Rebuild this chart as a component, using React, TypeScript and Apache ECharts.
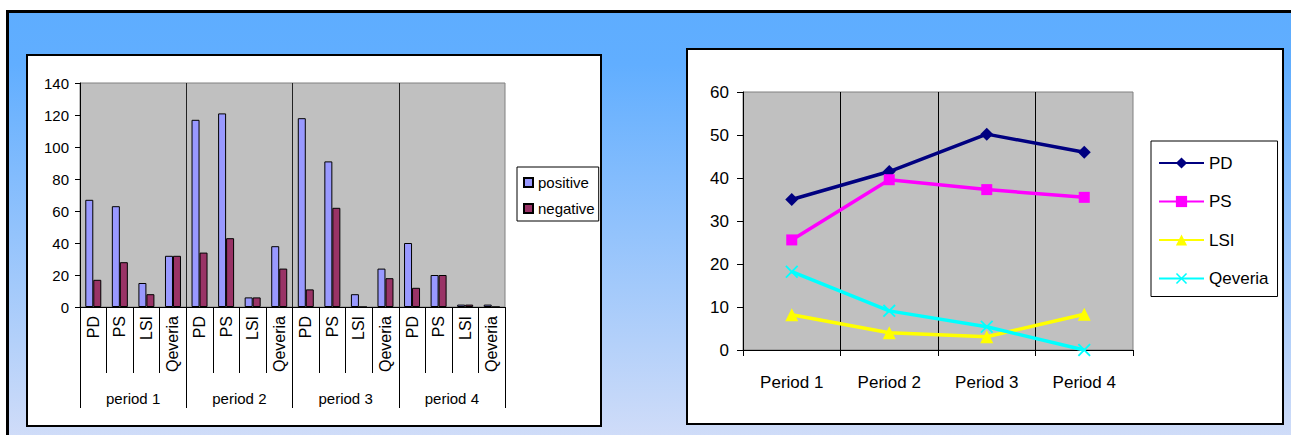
import React, { useEffect, useRef } from "react";
import * as echarts from "echarts";

const subCategories = [
  "PD", "PS", "LSI", "Qeveria",
  "PD", "PS", "LSI", "Qeveria",
  "PD", "PS", "LSI", "Qeveria",
  "PD", "PS", "LSI", "Qeveria",
];
const periodLabels = ["period 1", "period 2", "period 3", "period 4"];
const positiveValues = [67, 63, 15, 32, 117, 121, 6, 38, 118, 91, 8, 24, 40, 20, 1.5, 1.5];
const negativeValues = [17, 28, 8, 32, 34, 43, 6, 24, 11, 62, 0, 18, 12, 20, 1.5, 0];

const lineCategories = ["Period 1", "Period 2", "Period 3", "Period 4"];
const pdValues = [35, 41.5, 50.2, 46];
const psValues = [25.6, 39.6, 37.3, 35.5];
const lsiValues = [8.2, 4, 3.1, 8.3];
const qeveriaValues = [18.2, 9.1, 5.4, 0];

const FONT = 'Arial, "Liberation Sans", sans-serif';
const X_SYMBOL =
  "path://M1,0 L5,4 L9,0 L10,1 L6,5 L10,9 L9,10 L5,6 L1,10 L0,9 L4,5 L0,1 Z";

export default function App() {
  const ref = useRef<HTMLDivElement>(null);

  useEffect(() => {
    if (!ref.current) return;
    const chart = echarts.init(ref.current, undefined, { renderer: "svg" });
    const option: any = {
      animation: false,
      backgroundColor: "#ffffff",
      textStyle: { fontFamily: FONT },
      graphic: [
        {
          type: "rect",
          z: -100,
          shape: { x: 7.5, y: 11.5, width: 1300, height: 440 },
          style: {
            fill: new echarts.graphic.LinearGradient(0, 0, 0, 1, [
              { offset: 0, color: "#5EADFF" },
              { offset: 0.12, color: "#61AEFF" },
              { offset: 1, color: "#D4DEF8" },
            ]),
            stroke: "#000",
            lineWidth: 3,
          },
        },
        {
          type: "rect",
          z: -90,
          shape: { x: 27, y: 55, width: 574, height: 371 },
          style: { fill: "#fff", stroke: "#000", lineWidth: 2 },
        },
        {
          type: "rect",
          z: -90,
          shape: { x: 687, y: 49, width: 596, height: 375 },
          style: { fill: "#fff", stroke: "#000", lineWidth: 2 },
        },
      ],
      grid: [
        {
          left: 80,
          top: 83,
          width: 425,
          height: 224,
          show: true,
          backgroundColor: "#C0C0C0",
          borderColor: "#808080",
          borderWidth: 1,
        },
        {
          left: 743,
          top: 92,
          width: 390,
          height: 258,
          show: true,
          backgroundColor: "#C0C0C0",
          borderColor: "#808080",
          borderWidth: 1,
        },
      ],
      legend: [
        {
          left: 517,
          top: 167,
          orient: "vertical",
          data: ["positive", "negative"],
          backgroundColor: "#fff",
          borderColor: "#000",
          borderWidth: 1,
          padding: [7, 4, 4, 6],
          itemWidth: 9,
          itemHeight: 9,
          itemGap: 9,
          icon: "rect",
          textStyle: { fontSize: 15, color: "#000", fontFamily: FONT, lineHeight: 17 },
        },
        {
          left: 1151,
          top: 141,
          orient: "vertical",
          data: ["PD", "PS", "LSI", "Qeveria"],
          backgroundColor: "#fff",
          borderColor: "#000",
          borderWidth: 1,
          padding: [12, 9, 8, 7],
          itemWidth: 45,
          itemHeight: 14,
          itemGap: 18.5,
          textStyle: { fontSize: 17, color: "#000", fontFamily: FONT, lineHeight: 20 },
        },
      ],
      xAxis: [
        {
          type: "category",
          gridIndex: 0,
          position: "bottom",
          data: subCategories,
          axisLine: { show: true, lineStyle: { color: "#000", width: 1 } },
          axisTick: { show: true, interval: 0, length: 66, lineStyle: { color: "#000" } },
          axisLabel: {
            interval: 0,
            rotate: 90,
            margin: 9,
            fontSize: 16,
            color: "#000",
            fontFamily: FONT,
          },
          splitLine: { show: false },
        },
        {
          type: "category",
          gridIndex: 0,
          position: "bottom",
          offset: 0,
          data: periodLabels,
          axisLine: { show: false },
          axisTick: { show: true, interval: 0, length: 101, lineStyle: { color: "#000" } },
          axisLabel: {
            interval: 0,
            margin: 84,
            fontSize: 15,
            color: "#000",
            fontFamily: FONT,
          },
          splitLine: {
            show: true,
            interval: 0,
            showMinLine: false,
            showMaxLine: false,
            lineStyle: { color: "#222", width: 1 },
          },
        },
        {
          type: "category",
          gridIndex: 1,
          position: "bottom",
          data: lineCategories,
          axisLine: { show: true, lineStyle: { color: "#000", width: 1 } },
          axisTick: { show: true, interval: 0, length: 6, lineStyle: { color: "#000" } },
          axisLabel: {
            interval: 0,
            margin: 24,
            fontSize: 17,
            color: "#000",
            fontFamily: FONT,
          },
          splitLine: {
            show: true,
            interval: 0,
            showMinLine: false,
            showMaxLine: false,
            lineStyle: { color: "#000", width: 1 },
          },
        },
      ],
      yAxis: [
        {
          type: "value",
          gridIndex: 0,
          min: 0,
          max: 140,
          interval: 20,
          axisLine: { show: true, lineStyle: { color: "#000", width: 1 } },
          axisTick: { show: true, length: 5, lineStyle: { color: "#000" } },
          axisLabel: { margin: 11, fontSize: 15, color: "#000", fontFamily: FONT },
          splitLine: { show: false },
        },
        {
          type: "value",
          gridIndex: 1,
          min: 0,
          max: 60,
          interval: 10,
          axisLine: { show: true, lineStyle: { color: "#000", width: 1 } },
          axisTick: { show: true, length: 6, lineStyle: { color: "#000" } },
          axisLabel: { margin: 14, fontSize: 17, color: "#000", fontFamily: FONT },
          splitLine: { show: false },
        },
      ],
      series: [
        {
          name: "positive",
          type: "bar",
          xAxisIndex: 0,
          yAxisIndex: 0,
          data: positiveValues,
          barWidth: 8,
          barGap: "0%",
          itemStyle: { color: "#9999FF", borderColor: "#000", borderWidth: 1 },
        },
        {
          name: "negative",
          type: "bar",
          xAxisIndex: 0,
          yAxisIndex: 0,
          data: negativeValues,
          barWidth: 8,
          barGap: "0%",
          itemStyle: { color: "#993366", borderColor: "#000", borderWidth: 1 },
        },
        {
          name: "PD",
          type: "line",
          xAxisIndex: 2,
          yAxisIndex: 1,
          data: pdValues,
          symbol: "diamond",
          symbolSize: 13,
          lineStyle: { color: "#000080", width: 3.5 },
          itemStyle: { color: "#000080" },
        },
        {
          name: "PS",
          type: "line",
          xAxisIndex: 2,
          yAxisIndex: 1,
          data: psValues,
          symbol: "rect",
          symbolSize: 11,
          lineStyle: { color: "#FF00FF", width: 3.5 },
          itemStyle: { color: "#FF00FF" },
        },
        {
          name: "LSI",
          type: "line",
          xAxisIndex: 2,
          yAxisIndex: 1,
          data: lsiValues,
          symbol: "triangle",
          symbolSize: 13,
          lineStyle: { color: "#FFFF00", width: 3.5 },
          itemStyle: { color: "#FFFF00" },
        },
        {
          name: "Qeveria",
          type: "line",
          xAxisIndex: 2,
          yAxisIndex: 1,
          data: qeveriaValues,
          symbol: X_SYMBOL,
          symbolSize: 13,
          lineStyle: { color: "#00FFFF", width: 3.5 },
          itemStyle: { color: "#00FFFF" },
        },
      ],
    };
    chart.setOption(option);
    return () => chart.dispose();
  }, []);

  return (
    <div
      ref={ref}
      style={{ position: "fixed", left: 0, top: 0, width: 1291, height: 435 }}
    />
  );
}
